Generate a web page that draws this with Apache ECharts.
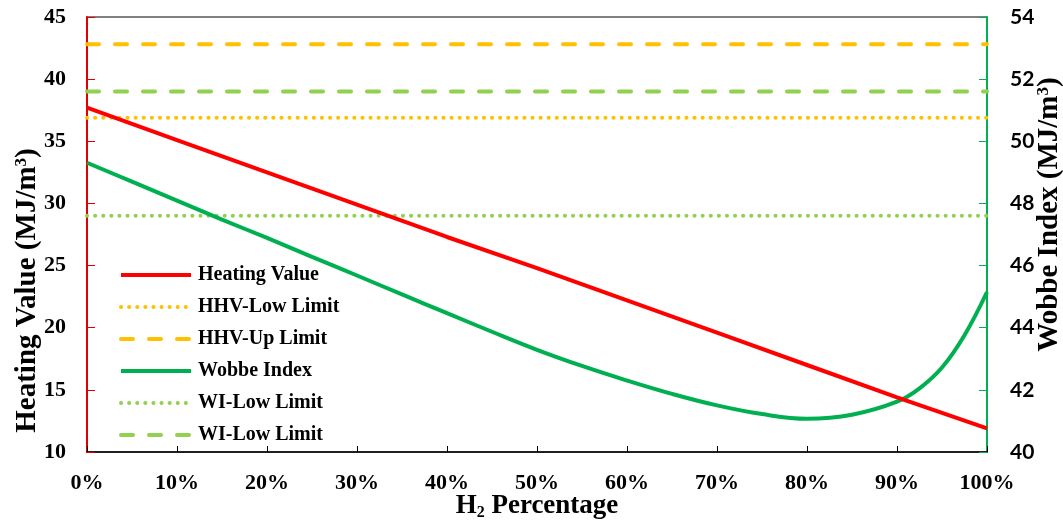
<!DOCTYPE html>
<html>
<head>
<meta charset="utf-8">
<script src="https://cdn.jsdelivr.net/npm/echarts@6/dist/echarts.min.js"></script>
<style>html,body{margin:0;padding:0;background:#fff;}#c{width:1063px;height:520px;}</style>
</head>
<body>
<div id="c"></div>
<script>
// H2 percentage (x) for heating value
const hvX = [0, 10, 20, 30, 40, 50, 60, 70, 80, 90, 100];
const heatingValue = [37.7, 35.1, 32.5, 29.9, 27.3, 24.8, 22.2, 19.6, 17.0, 14.4, 11.9];
// H2 percentage (x) for Wobbe index
const wiX = [0, 5, 10, 15, 20, 25, 30, 35, 40, 45, 50, 55, 60, 65, 70, 75, 80, 85, 90, 92.5, 95, 97.5, 100];
const wobbeIndex = [49.31, 48.70, 48.09, 47.48, 46.89, 46.28, 45.68, 45.07, 44.47, 43.87, 43.29, 42.77, 42.30, 41.87, 41.50, 41.22, 41.07, 41.20, 41.62, 42.05, 42.72, 43.76, 45.15];
// limits
const hhvLowLimit = 36.9;
const hhvUpLimit = 42.8;
const wiLowLimitDotted = 47.6;
const wiLimitDashed = 51.6;
const xTicks = [0, 100, 10];
const leftTicks = [10, 45, 5];
const rightTicks = [40, 54, 2];

const serif = '"Liberation Serif","Times New Roman",serif';
const pair = (xs, ys) => xs.map((x, i) => [x, ys[i]]);
const flat = v => [[0, v], [100, v]];

const chart = echarts.init(document.getElementById('c'));
chart.setOption({
  animation: false,
  backgroundColor: '#fff',
  grid: { left: 87, right: 76, top: 17, bottom: 68, outerBoundsMode: 'none', containLabel: false,
          show: true, borderColor: '#000', borderWidth: 1, backgroundColor: 'transparent' },
  legend: {
    left: 114, top: 260, orient: 'vertical',
    itemWidth: 70, itemHeight: 14, itemGap: 12,
    itemStyle: { opacity: 0 },
    lineStyle: { width: 4 },
    textStyle: { fontFamily: serif, fontWeight: 'bold', fontSize: 20, lineHeight: 20, color: '#000', padding: [0, 0, 0, 2] },
    data: ['Heating Value', 'HHV-Low Limit', 'HHV-Up Limit', 'Wobbe Index', 'WI-Low Limit', 'WI-Low Limit ']
  },
  xAxis: {
    type: 'value', min: xTicks[0], max: xTicks[1], interval: xTicks[2],
    name: '{h|H}{s|2}{h| Percentage}', nameLocation: 'middle', nameGap: 40, nameMoveOverlap: false,
    nameTextStyle: { rich: {
      h: { fontFamily: serif, fontWeight: 'bold', fontSize: 27, color: '#000' },
      s: { fontFamily: serif, fontWeight: 'bold', fontSize: 16, color: '#000', verticalAlign: 'bottom', padding: [13, 0, 0, 0] }
    } },
    axisLine: { lineStyle: { color: '#000', width: 1.5 } },
    axisTick: { inside: true, length: 6, lineStyle: { color: '#000' } },
    splitLine: { show: false },
    axisLabel: { formatter: '{value}%', margin: 20, fontFamily: serif, fontWeight: 'bold', fontSize: 22, color: '#000' }
  },
  yAxis: [{
    type: 'value', min: leftTicks[0], max: leftTicks[1], interval: leftTicks[2], position: 'left',
    name: '{t|Heating Value (MJ/m}{p|3}{t|)}', nameLocation: 'middle', nameGap: 45, nameRotate: 90, nameMoveOverlap: false,
    nameTextStyle: { padding: [0, 112, 0, 0], rich: {
      t: { fontFamily: serif, fontWeight: 'bold', fontSize: 29, color: '#000' },
      p: { fontFamily: serif, fontWeight: 'bold', fontSize: 17, color: '#000', verticalAlign: 'top', padding: [0, 0, 10, 0] }
    } },
    axisLine: { show: true, lineStyle: { color: '#E00000', width: 2 } },
    axisTick: { show: true, inside: true, length: 8, lineStyle: { color: '#E00000' } },
    splitLine: { show: false },
    axisLabel: { margin: 21, fontFamily: serif, fontWeight: 'bold', fontSize: 22, color: '#000' }
  }, {
    type: 'value', min: rightTicks[0], max: rightTicks[1], interval: rightTicks[2], position: 'right',
    name: '{t|Wobbe Index (MJ/m}{p|3}{t|)}', nameLocation: 'middle', nameGap: 48, nameRotate: 90, nameMoveOverlap: false,
    nameTextStyle: { padding: [0, 0, 0, 40], rich: {
      t: { fontFamily: serif, fontWeight: 'bold', fontSize: 29, color: '#000' },
      p: { fontFamily: serif, fontWeight: 'bold', fontSize: 17, color: '#000', verticalAlign: 'top', padding: [0, 0, 10, 0] }
    } },
    axisLine: { show: true, lineStyle: { color: '#00B050', width: 2 } },
    axisTick: { show: true, inside: true, length: 8, lineStyle: { color: '#00B050' } },
    splitLine: { show: false },
    axisLabel: { margin: 23, fontFamily: 'Lato, "Open Sans", sans-serif', fontWeight: 'bold', fontSize: 21, color: '#000' }
  }],
  series: [
    { name: 'Heating Value', type: 'line', yAxisIndex: 0, data: pair(hvX, heatingValue), symbol: 'none',
      lineStyle: { color: '#FF0000', width: 4 }, itemStyle: { color: '#FF0000' }, z: 5 },
    { name: 'HHV-Low Limit', type: 'line', yAxisIndex: 0, data: flat(hhvLowLimit), symbol: 'none',
      lineStyle: { color: '#FFC000', width: 4, type: [0.1, 8], cap: 'round' }, itemStyle: { color: '#FFC000' } },
    { name: 'HHV-Up Limit', type: 'line', yAxisIndex: 0, data: flat(hhvUpLimit), symbol: 'none',
      lineStyle: { color: '#FFC000', width: 4, type: [12, 16], cap: 'round' }, itemStyle: { color: '#FFC000' } },
    { name: 'Wobbe Index', type: 'line', yAxisIndex: 1, data: pair(wiX, wobbeIndex), symbol: 'none', smooth: 0.4,
      lineStyle: { color: '#00B050', width: 4 }, itemStyle: { color: '#00B050' }, z: 4 },
    { name: 'WI-Low Limit', type: 'line', yAxisIndex: 1, data: flat(wiLowLimitDotted), symbol: 'none',
      lineStyle: { color: '#92D050', width: 4, type: [0.1, 8], cap: 'round' }, itemStyle: { color: '#92D050' } },
    { name: 'WI-Low Limit ', type: 'line', yAxisIndex: 1, data: flat(wiLimitDashed), symbol: 'none',
      lineStyle: { color: '#92D050', width: 4, type: [12, 16], cap: 'round' }, itemStyle: { color: '#92D050' } }
  ]
});
</script>
</body>
</html>
